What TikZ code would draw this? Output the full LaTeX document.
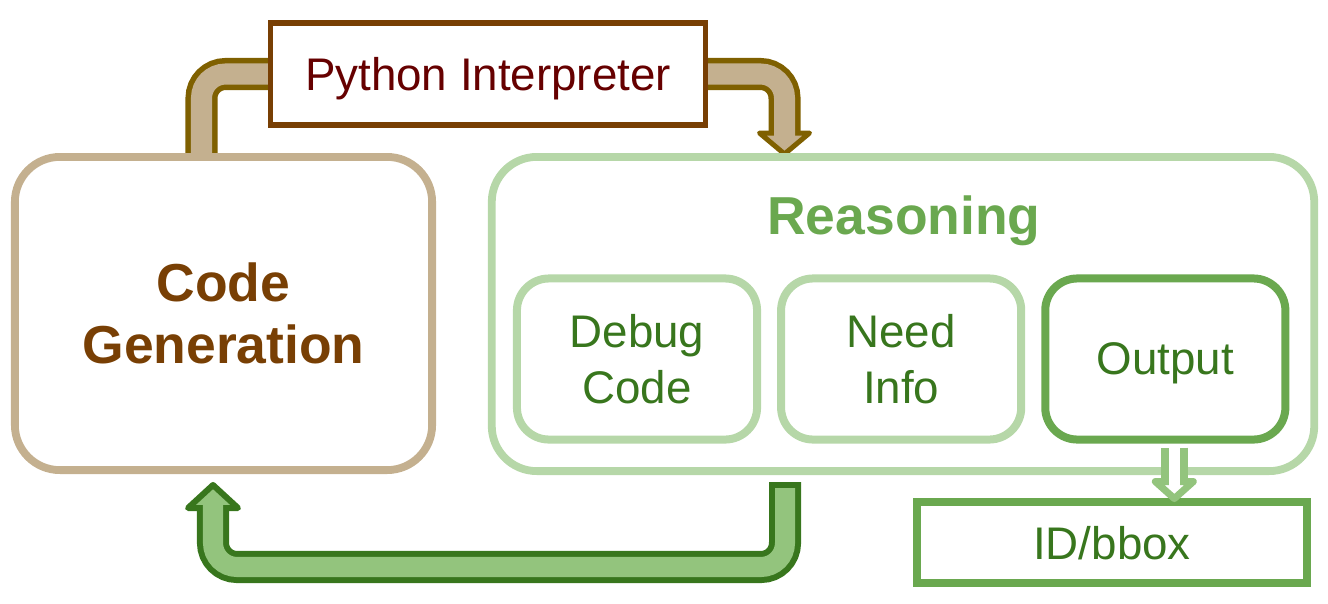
\documentclass[tikz,border=0pt]{standalone}
\usepackage{fontspec}
\setmainfont{Liberation Sans}
\usepackage{tikz}
\usetikzlibrary{
positioning,
calc,
backgrounds
}
\definecolor{cgtan}{HTML}{C4B08F}
\definecolor{cgolive}{HTML}{7F6000}
\definecolor{cgbrown}{HTML}{783F04}
\definecolor{cgdarkred}{HTML}{660000}
\definecolor{rsgreen}{HTML}{6AA84F}
\definecolor{rslight}{HTML}{B6D7A8}
\definecolor{rsmid}{HTML}{93C47D}
\definecolor{rsdark}{HTML}{38761D}

\begin{document}
\begin{tikzpicture}[
  x=0.01cm, y=-0.01cm,
  bigbox/.style={draw, line width=0.78mm, rounded corners=0.45cm, align=center, font=\fontsize{15.2}{17.6}\selectfont\bfseries},
  subbox/.style={draw=rslight, line width=0.8mm, rounded corners=0.32cm, minimum width=2.4cm, minimum height=1.61cm, text depth=0pt, align=center, text=rsdark, font=\fontsize{13}{15.8}\selectfont},
  plainbox/.style={draw, text depth=0pt, font=\fontsize{13}{15.4}\selectfont},
  pipeout/.style={line width=0.32cm, rounded corners=0.24cm},
  pipein/.style={line width=0.21cm, rounded corners=0.24cm},
  tiphead/.style={line width=0.05cm, line join=round}
]
\useasboundingbox (0,0) rectangle (1328,603);

% Code generation
\node[bigbox, draw=cgtan, text=cgbrown, minimum width=4.17cm, minimum height=3.13cm] (cg) at (223.5,313.5) {Code\\Generation};

% Reasoning and its three cases
\node[bigbox, draw=rslight, minimum width=8.22cm, minimum height=3.14cm] (rs) at (903,314) {};
\node[anchor=base, text=rsgreen, font=\fontsize{15.2}{17.6}\selectfont\bfseries] (rstitle) at ($(rs.north)+(1,81)$) {Reasoning};
\node[subbox] (debug) at (637,359) {Debug\\Code};
\node[subbox, right=0.16cm of debug] (need) {Need\\Info};
\node[subbox, draw=rsgreen, right=0.16cm of need] (out) {Output};

% Interpreter and final answer
\node[plainbox, draw=cgbrown, line width=0.55mm, fill=white, text=cgdarkred, minimum width=4.35cm, minimum height=1.02cm] (py) at (488,74) {Python Interpreter};
\node[plainbox, draw=rsgreen, line width=0.75mm, text=rsdark, minimum width=3.9cm, minimum height=0.81cm] (idbox) at (1112,542.5) {ID/bbox};

% Code goes through the interpreter into reasoning
\begin{scope}[on background layer]
\draw[pipeout, cgolive] ($(cg.north)+(-22,7)$) |- (py.west) -| ($(rs.north)+(-118.5,-20)$);
\filldraw[tiphead, draw=cgolive, fill=cgtan] ($(rs.north)+(-143.5,-20)$) -- ($(rs.north)+(-118.5,1)$) -- ($(rs.north)+(-93.5,-20)$) -- cycle;
\draw[pipein, cgtan] ($(cg.north)+(-22,2)$) |- (py.west) -| ($(rs.north)+(-118.5,-16)$);
\end{scope}

% Back to code generation
\draw[pipeout, rsdark] ($(rs.south)+(-118,7)$) |- ($(cg.south)+(-10.5,93)$) -- ($(cg.south)+(-10.5,34)$);
\filldraw[tiphead, line width=0.06cm, draw=rsdark, fill=rsmid] ($(cg.south)+(-35.5,34)$) -- ($(cg.south)+(-10.5,11)$) -- ($(cg.south)+(14.5,34)$) -- cycle;
\draw[pipein, line width=0.2cm, rsmid] ($(rs.south)+(-118,13)$) |- ($(cg.south)+(-10.5,93)$) -- ($(cg.south)+(-10.5,30)$);

% Output to ID/bbox
\draw[line width=0.27cm, rsmid] ($(out.south)+(9,4)$) -- ($(out.south)+(9,38)$);
\filldraw[tiphead, line width=0.07cm, draw=rsmid, fill=white] ($(out.south)+(-10,38)$) -- ($(out.south)+(9,55)$) -- ($(out.south)+(28,38)$) -- cycle;
\draw[line width=0.11cm, white] ($(out.south)+(9,4)$) -- ($(out.south)+(9,42)$);

\end{tikzpicture}
\end{document}
